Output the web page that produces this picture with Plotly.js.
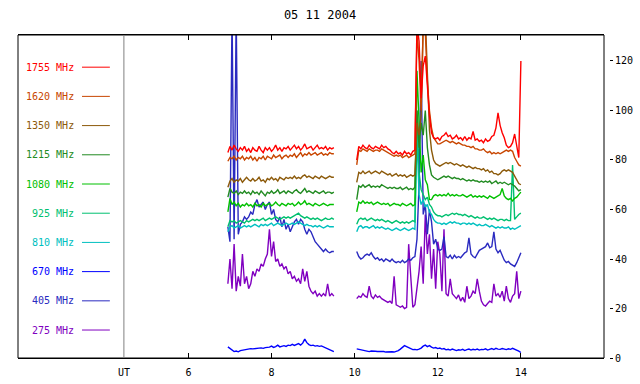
<!DOCTYPE html>
<html>
<head>
<meta charset="utf-8">
<script src="https://cdn.plot.ly/plotly-3.0.1.min.js"></script>
<style>html,body{margin:0;padding:0;background:#fff;}#chart{width:640px;height:384px;}</style>
</head>
<body>
<div id="chart"></div>
<script>
// ---- data (UT hours, flux units) ----
const chartTitle = '05 11 2004';
const xTicks = [6, 8, 10, 12, 14];
const yTicks = [0, 20, 40, 60, 80, 100, 120];
const freqLabels = ['1755 MHz','1620 MHz','1350 MHz','1215 MHz','1080 MHz','925 MHz','810 MHz','670 MHz','405 MHz','275 MHz'];
const freqColors = ['#ff0000','#c84600','#8c5a0a','#228b22','#00c000','#00c070','#00c0c0','#0000ff','#2a2ac0','#8000c0'];

const t1 = [6.95,7.00,7.05,7.10,7.15,7.20,7.25,7.30,7.35,7.40,7.45,7.50,7.55,7.60,7.65,7.70,7.75,7.80,7.85,7.90,7.95,8.00,8.05,8.10,8.15,8.20,8.25,8.30,8.35,8.40,8.45,8.50,8.55,8.60,8.65,8.70,8.75,8.80,8.85,8.90,8.95,9.00,9.05,9.10,9.15,9.20,9.25,9.30,9.35,9.40,9.45,9.50];
const t2 = [10.05,10.10,10.15,10.20,10.25,10.30,10.35,10.40,10.45,10.50,10.55,10.60,10.65,10.70,10.75,10.80,10.85,10.90,10.95,11.00,11.05,11.10,11.15,11.20,11.25,11.30,11.35,11.40,11.45,11.50,11.55,11.60,11.65,11.70,11.75,11.80,11.85,11.90,11.95,12.00,12.05,12.10,12.15,12.20,12.25,12.30,12.35,12.40,12.45,12.50,12.55,12.60,12.65,12.70,12.75,12.80,12.85,12.90,12.95,13.00,13.05,13.10,13.15,13.20,13.25,13.30,13.35,13.40,13.45,13.50,13.55,13.60,13.65,13.70,13.75,13.80,13.85,13.90,13.95,14.00];

const f1755a = [83,85.5,84,86,84.5,83.5,85,84,85.5,83.5, 84.5,83,85,84,83.5,85.5,84,83,85,84, 85,83.5,84.5,86,84,85,83.5,85,84.5,85.5, 84,85,86,84.5,85.5,84,85,86.5,84.5,85, 85.5,84,85,86,84.5,85,84.5,85.5,84,85, 84.5,85];
const f1755b = [80,85.5,84.5,86,85,84.5,86,85,84.5,85.5, 85,84.5,86,85,85.5,84.5,84,83,82.5,83.5, 82.5,83,82,83.5,82.5,83,82,83.5,84,135, 128,105,118,122,110,98,91,89,88.5,89, 88,89.5,90,91,89.5,90,88.5,89,90,88.5, 89,88,89.5,88,89,88.5,91.5,88,88.5,87.5, 88,87,88.5,87.5,88,89.5,90,93,99,94, 91,89,86,85,85.5,87,90.5,86,81,120];

const f1620a = [79.5,81,80.5,81.5,80,81,80.5,81.5,80,81, 80.5,81.5,80,81,79.5,81,80.5,81.5,80,81.5, 81,80.5,82,81,81.5,82,80.5,81.5,82,81, 82,81.5,82.5,81,82,83,81.5,82.5,82,83, 82,82.5,83,82,82.5,83,82,82.5,82,83, 82.5,82.5];
const f1620b = [78,84,83.5,84.5,84,83.5,84.5,84,83.5,84, 84,83.5,84.5,84,83.5,83,82.5,82,81.5,82, 81.5,82,81,81.5,82,81,81.5,82,82.5,132, 120,100,135,132,112,100,93,89,87.5,86.5, 86.5,87,87.5,88,87.5,87,87.5,87,86.5,87, 86.5,86,86,85.5,85.5,85,85.5,84.5,84.5,84, 84,84.5,83.5,83,83.5,82.5,83,82.5,83,82.5, 83,83.5,84,83.5,84,83.5,81,79.5,78,77.5];

const f1350a = [69,71.5,72.5,71,72,71.5,72.5,71,72,73, 72,71.5,72.5,71.5,72,73,71.5,72,71,72.5, 72,73,72,72.5,71.5,73,72.5,72,73,72.5, 73,72.5,73.5,72.5,73,72.5,73.5,74,73,73.5, 73,72.5,73.5,73,72.5,73.5,73,72.5,73,73.5, 73,73];
const f1350b = [71,75,74.5,75.5,74.5,75,75.5,74.5,75,75.5, 75,74.5,75.5,75,74.5,74,74.5,73.5,74,74.5, 73.5,74,73.5,74,73,73.5,74,73.5,74,95, 90,98,135,138,112,92,84,80,78.5,78, 77.5,78,78.5,79,78.5,79,78.5,78,78.5,78, 77.5,78,77.5,77,77.5,77,76.5,77,76.5,76.5, 76,76.5,75.5,76,75,75.5,74.5,74.5,74,74.5, 75.5,76,75.5,76,75.5,75,73.5,72,70.5,70];

const f1215a = [65,68.5,67,66.5,67.5,66,67,66.5,67.5,66.5, 67,66,67.5,66.5,67,66,67.5,66.5,65.5,67, 66.5,67.5,66.5,67,68,66.5,67,67.5,66.5,67.5, 67,66.5,67.5,68,67,66.5,67.5,68.5,67,67.5, 67,66.5,67.5,67,66.5,67,67.5,66.5,67,67, 66.5,67];
const f1215b = [64,69.5,69,70,69,69.5,70,69,69.5,69, 69.5,69,70,69.5,69,68.5,69,68.5,69,68.5, 68.5,69,68,68.5,69,68,68.5,68,69,100, 85,95,90,100,85,78,74,73,72.5,72, 72.5,73,73.5,73,73.5,73,72.5,73,72.5,72.5, 72,72.5,72,71.5,72,71.5,72,71.5,71.5,71, 71.5,71,71.5,71,71.5,70.5,71,71.5,70.5,71, 70.5,71,70.5,70,70.5,70,69.5,68.5,67.5,68];

const f1080a = [59,64.5,62,63,61.5,62.5,61,62,61.5,62.5, 61.5,62,61,62.5,61.5,62,61,62.5,61.5,62, 62.5,61.5,62,63,62,61.5,62.5,62,61.5,62.5, 62,62.5,61.5,62,63,62,62.5,63.5,62,62.5, 62,61.5,62.5,62,61.5,62,62.5,62,61.5,62, 62,62];
const f1080b = [59,63,62.5,63.5,62.5,63,62.5,63,62,62.5, 63,62.5,62,62.5,62,62.5,61.5,62,62.5,62, 62,61.5,62.5,62,61.5,62,62.5,61.5,62,116, 95,75,82,72,70,64,64,65.5,66,65.5, 66,65.5,66,65.5,66.5,65.5,66,65.5,66,65.5, 65.5,66,65.5,65,65.5,66,65,65.5,65,65.5, 65,65.5,65,64.5,65.5,65,64.5,65,65.5,66, 68.5,65.5,64.5,64,64.5,63.5,64.5,65,66,67];

const f925a = [53,55.5,55,55.5,54.5,55,55.5,55,54.5,55.5, 55,55.5,56,55.5,56,55.5,56,56.5,55.5,56, 56.5,56,56.5,57,56.5,56,56.5,57,56.5,57, 56.5,57,57.5,58,58.5,57.5,57,56.5,57,56.5, 56,56.5,56,56.5,56,55.5,56,56.5,56,56, 56.5,56];
const f925b = [54,56,56.5,56,56.5,55.5,56,56.5,56,55.5, 56,55.5,56,55.5,55,55.5,55,54.5,55,55.5, 55,54.5,55,54.5,55,54.5,55,55.5,55,100, 75,68,66,64,65,62,61,59,58,57.5, 57.5,57,57.5,58,57.5,58,58.5,58,58.5,58, 58,57.5,58,57.5,57,57.5,57,56.5,57,56.5, 56.5,57,56.5,56,56.5,56,56.5,56,55.5,56, 56,55.5,56,55.5,55.5,78,56,57,58,58.5];

const f810a = [51,53,53.5,52.5,53,53.5,52.5,53,53.5,53, 53.5,53,53.5,54,53.5,53,54,53.5,54,53.5, 54,54.5,53.5,54,54.5,54,53.5,54,54.5,54, 54,54.5,54,54.5,55,54.5,54,53.5,54,53.5, 53.5,53,53.5,53,53.5,53,52.5,53,53.5,53, 53,53];
const f810b = [51,53,53.5,52.5,53,53,52.5,53,53.5,52.5, 53,52.5,53,52.5,52,52.5,52,51.5,52,52.5, 52,51.5,52,52.5,52,51.5,52,52.5,52,90, 66,62,64,61,62,59,58,56,55,54.5, 54.5,54,54.5,54,54.5,55,54.5,55,54.5,54.5, 54,54.5,54.5,54,54.5,54,54.5,54,53.5,54, 53.5,53.5,54,53.5,53,53.5,53,52.5,53,52.5, 53,52.5,52.5,53,52,52.5,52,52.5,53,53.5];

const f670a = [4.5,3.8,3.0,2.6,2.8,2.5,3.0,3.2,3.4,3.6, 3.5,3.8,3.7,3.9,3.8,4.0,4.1,3.9,4.2,4.3, 4.4,4.8,4.3,4.6,5.2,4.5,4.9,5.0,4.7,5.2, 5.0,5.5,5.1,5.4,5.8,5.2,6.0,7.6,6.2,5.4, 5.0,5.2,4.8,5.0,4.7,4.9,4.5,4.2,4.0,3.5, 3.0,2.6];
const f670b = [3.7,3.5,3.3,3.0,2.8,2.7,2.6,2.8,2.6,2.7, 2.6,2.7,2.5,2.6,2.4,2.5,2.6,2.5,2.4,2.6, 3.0,3.6,4.5,5.0,4.6,4.2,3.6,3.4,3.5,3.3, 3.6,4.0,4.8,5.2,4.6,5.0,4.4,4.0,4.2,3.8, 4.0,3.6,3.8,3.3,3.5,3.2,3.6,3.4,3.0,3.3, 3.2,3.5,3.0,3.4,3.6,3.2,3.5,3.3,3.6,3.2, 3.5,3.4,3.7,3.2,3.6,3.8,3.4,3.9,3.6,3.5, 3.8,3.6,3.4,3.7,3.5,3.9,3.6,3.3,2.8,2.2];

const f405a = [53,47,140,48,140,50,54,55,57,56, 57,59,58,62,64,61,62,63,60,62, 63,58,60,56,55,57,53,56,52,54, 51,53,55,56,54,56,55,52,50,52, 51,49,47,46,45,44,43,44,43,42.5, 43,43];
const f405b = [43,41,40,40.5,41.5,42,41.5,42.5,41,40, 40.5,39.5,40,39,40,39.5,39,40,39,38.5, 39,38.5,39.5,38.5,39,40,39.5,40.5,41,48, 70,120,58,62,50,60,55,46,48,44, 43.5,44,49,41,40.5,41.5,40,41.5,40.5,41, 40.5,41.5,42.5,43,48.5,42,41,40.5,42,43.5, 44,44.5,45,46.5,44.5,45,51,44,42.5,43.5, 41.5,39.5,38.5,39,38,37.5,37,38.5,40.5,42.5];

const f275a = [30,40,28,46,27,33,29,42,30,33, 28,30,35,33,36,35,38,37,40,42, 52,41,47,39,40,37,38,36,37,34, 35,32,33,31,32,30,36,31,35,29, 27,26,27,25,26,25,26,25,30,25, 26,25];
const f275b = [24,25,24.5,26,25,24.5,29,25,24,25.5, 24.5,25,24,23.5,23,22.5,23,22,33,21.5, 21,20.5,21,20,20.5,46,33,20.5,21.5,28, 35,45,30,58,42,50,32,44,28,47, 42,27,52,26,25,32,26,25,24,25.5, 23,24.5,22.5,29,24,25,27,26,32,27, 23,21.5,21,22,23,22.5,30,25,26,24.5, 27,23,29,24,22.5,25,26,35,24,27];

const seriesA = [f1755a,f1620a,f1350a,f1215a,f1080a,f925a,f810a,f670a,f405a,f275a];
const seriesB = [f1755b,f1620b,f1350b,f1215b,f1080b,f925b,f810b,f670b,f405b,f275b];

// ---- styling ----
const FONT = 'DejaVu Sans Mono, Liberation Mono, monospace';
const X_RANGE = [1.9, 16.0];
const Y_RANGE = [0, 130.5];
const UT_X = 4.448;
const LEG_TEXT_X = 3.27, LEG_LINE_X0 = 3.44, LEG_LINE_X1 = 4.11;
const LEG_TOP = 117.5, LEG_STEP = 11.8;

const xs = t1.concat([null], t2);
const traces = [];
for (let k = freqLabels.length - 1; k >= 0; k--) {
  traces.push({
    type: 'scatter', mode: 'lines',
    x: xs, y: seriesA[k].concat([null], seriesB[k]),
    line: {color: freqColors[k], width: 1.4},
    connectgaps: false, showlegend: false, hoverinfo: 'skip'
  });
}

const annotations = [];
const shapes = [
  {type:'rect', xref:'x domain', yref:'y domain', x0:0, x1:1, y0:0, y1:1, line:{color:'#000', width:1}, fillcolor:'rgba(0,0,0,0)'},
  {type:'line', xref:'x', yref:'y domain', x0:UT_X, x1:UT_X, y0:0, y1:1, line:{color:'#808080', width:1}}
];
freqLabels.forEach((lab, k) => {
  const yy = LEG_TOP - LEG_STEP * k;
  annotations.push({xref:'x', yref:'y', x:LEG_TEXT_X, y:yy, xanchor:'right', yanchor:'middle',
    text: lab, showarrow:false, font:{family:FONT, size:10, color:freqColors[k]}, borderpad:0});
  shapes.push({type:'line', xref:'x', yref:'y', x0:LEG_LINE_X0, x1:LEG_LINE_X1, y0:yy, y1:yy,
    line:{color:freqColors[k], width:1}});
});
annotations.push({xref:'x', yref:'paper', x:UT_X, y:0, yshift:-7, xanchor:'center', yanchor:'top',
  text:'UT', showarrow:false, font:{family:FONT, size:10, color:'#000'}});

const layout = {
  width: 640, height: 384,
  paper_bgcolor: '#fff', plot_bgcolor: '#fff',
  margin: {l:18, r:31, t:35, b:26, pad:0},
  title: {text: chartTitle, font:{family:FONT, size:12, color:'#000'}, x:0.5, xref:'container', y:0.961, yref:'container', yanchor:'middle'},
  xaxis: {
    domain: [0, 586/591], range: X_RANGE, tickvals: xTicks, ticktext: xTicks.map(String),
    ticks: 'inside', ticklen: 5, tickcolor: '#000', showline: true, mirror: 'ticks', linecolor: '#000', linewidth: 1,
    showgrid: false, zeroline: false, tickfont: {family:FONT, size:10, color:'#000'}, ticklabelstandoff: 5
  },
  yaxis: {
    range: Y_RANGE, anchor: 'free', position: 1, side: 'right', tickvals: yTicks,
    ticks: 'outside', ticklen: 3, tickcolor: '#000', showline: false,
    showgrid: false, zeroline: false, tickfont: {family:FONT, size:10, color:'#000'}
  },
  annotations: annotations,
  shapes: shapes,
  showlegend: false
};

Plotly.newPlot('chart', traces, layout, {staticPlot: true, displayModeBar: false});
</script>
</body>
</html>
